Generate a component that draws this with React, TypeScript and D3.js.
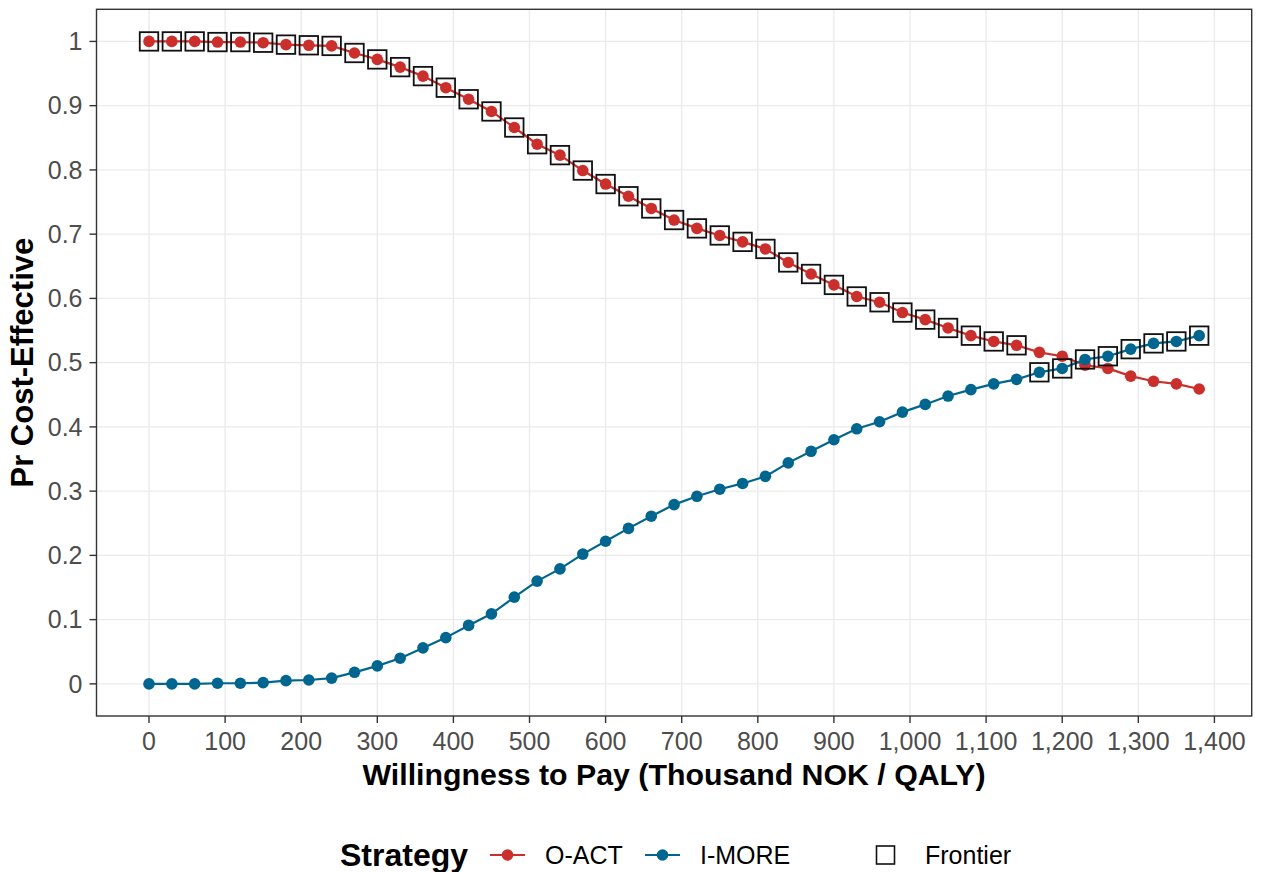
import React from "react";
import * as d3 from "d3";

const wtp = [0, 30, 60, 90, 120, 150, 180, 210, 240, 270, 300, 330, 360, 390, 420, 450, 480, 510, 540, 570, 600, 630, 660, 690, 720, 750, 780, 810, 840, 870, 900, 930, 960, 990, 1020, 1050, 1080, 1110, 1140, 1170, 1200, 1230, 1260, 1290, 1320, 1350, 1380];

const oact = [1.0, 1.0, 1.0, 0.999, 0.999, 0.998, 0.995, 0.994, 0.993, 0.982, 0.972, 0.96, 0.946, 0.928, 0.91, 0.891, 0.866, 0.84, 0.823, 0.799, 0.778, 0.759, 0.74, 0.722, 0.709, 0.698, 0.688, 0.677, 0.656, 0.638, 0.621, 0.603, 0.594, 0.578, 0.567, 0.554, 0.542, 0.533, 0.527, 0.516, 0.51, 0.496, 0.491, 0.479, 0.471, 0.467, 0.459];

const imore = [0, 0, 0, 0.001, 0.001, 0.002, 0.005, 0.006, 0.009, 0.018, 0.028, 0.04, 0.056, 0.072, 0.091, 0.109, 0.135, 0.16, 0.179, 0.202, 0.222, 0.242, 0.261, 0.279, 0.292, 0.303, 0.312, 0.323, 0.344, 0.362, 0.38, 0.397, 0.408, 0.423, 0.435, 0.448, 0.458, 0.467, 0.474, 0.485, 0.491, 0.505, 0.51, 0.521, 0.53, 0.533, 0.542];

const frontier = [
  "O-ACT", "O-ACT", "O-ACT", "O-ACT", "O-ACT", "O-ACT", "O-ACT", "O-ACT", "O-ACT", "O-ACT",
  "O-ACT", "O-ACT", "O-ACT", "O-ACT", "O-ACT", "O-ACT", "O-ACT", "O-ACT", "O-ACT", "O-ACT",
  "O-ACT", "O-ACT", "O-ACT", "O-ACT", "O-ACT", "O-ACT", "O-ACT", "O-ACT", "O-ACT", "O-ACT",
  "O-ACT", "O-ACT", "O-ACT", "O-ACT", "O-ACT", "O-ACT", "O-ACT", "O-ACT", "O-ACT",
  "I-MORE", "I-MORE", "I-MORE", "I-MORE", "I-MORE", "I-MORE", "I-MORE", "I-MORE",
];

const strategies = ["O-ACT", "I-MORE"];
const colors = ["#CB2F2C", "#00668F"];
const xTicks = [0, 100, 200, 300, 400, 500, 600, 700, 800, 900, 1000, 1100, 1200, 1300, 1400];
const yTicks = [0, 0.1, 0.2, 0.3, 0.4, 0.5, 0.6, 0.7, 0.8, 0.9, 1];

const W = 1261;
const H = 872;
const panel = { left: 96.5, right: 1251.7, top: 9.3, bottom: 716 };
const FONT = "'Liberation Sans', Arial, Helvetica, sans-serif";

export default function App() {
  const x = d3.scaleLinear().domain([-69, 1449]).range([panel.left, panel.right]);
  const y = d3.scaleLinear().domain([-0.05, 1.05]).range([panel.bottom, panel.top]);
  const series = [oact, imore];
  const line = d3
    .line<[number, number]>()
    .x((d) => x(d[0]))
    .y((d) => y(d[1]));
  const fmtX = d3.format(",");
  const fmtY = (v: number) => d3.format("")(+v.toFixed(1));

  const sq = 18.5;

  return (
    <svg
      width={W}
      height={H}
      style={{ position: "absolute", left: 0, top: 0, background: "#fff" }}
      fontFamily={FONT}
    >
      <rect x={0} y={0} width={W} height={H} fill="#fff" />
      {xTicks.map((t) => (
        <line key={"gx" + t} x1={x(t)} x2={x(t)} y1={panel.top} y2={panel.bottom} stroke="#EBEBEB" strokeWidth={1.4} />
      ))}
      {yTicks.map((t) => (
        <line key={"gy" + t} x1={panel.left} x2={panel.right} y1={y(t)} y2={y(t)} stroke="#EBEBEB" strokeWidth={1.4} />
      ))}
      {series.map((s, i) => (
        <path
          key={"l" + i}
          d={line(wtp.map((w, j) => [w, s[j]] as [number, number])) || ""}
          fill="none"
          stroke={colors[i]}
          strokeWidth={2.2}
        />
      ))}
      {series.map((s, i) => (
        <g key={"p" + i} fill={colors[i]}>
          {wtp.map((w, j) => (
            <circle key={j} cx={x(w)} cy={y(s[j])} r={5.8} />
          ))}
        </g>
      ))}
      <g fill="none" stroke="#111" strokeWidth={1.8}>
        {wtp.map((w, j) => {
          const idx = strategies.indexOf(frontier[j]);
          const v = series[idx][j];
          return <rect key={j} x={x(w) - sq / 2} y={y(v) - sq / 2} width={sq} height={sq} />;
        })}
      </g>
      <rect
        x={panel.left}
        y={panel.top}
        width={panel.right - panel.left}
        height={panel.bottom - panel.top}
        fill="none"
        stroke="#333333"
        strokeWidth={1.4}
      />
      {xTicks.map((t) => (
        <g key={"xt" + t}>
          <line x1={x(t)} x2={x(t)} y1={panel.bottom} y2={panel.bottom + 7} stroke="#333333" strokeWidth={1.4} />
          <text x={x(t)} y={panel.bottom + 34} textAnchor="middle" fontSize={25} fill="#4D4D4D">
            {fmtX(t)}
          </text>
        </g>
      ))}
      {yTicks.map((t) => (
        <g key={"yt" + t}>
          <line x1={panel.left - 7} x2={panel.left} y1={y(t)} y2={y(t)} stroke="#333333" strokeWidth={1.4} />
          <text x={panel.left - 14} y={y(t)} dy="0.35em" textAnchor="end" fontSize={25} fill="#4D4D4D">
            {fmtY(t)}
          </text>
        </g>
      ))}
      <text
        x={(panel.left + panel.right) / 2}
        y={785}
        textAnchor="middle"
        fontSize={30.3}
        fontWeight="bold"
        fill="#000"
      >
        Willingness to Pay (Thousand NOK / QALY)
      </text>
      <text
        transform={`translate(33,${(panel.top + panel.bottom) / 2}) rotate(-90)`}
        textAnchor="middle"
        fontSize={31}
        fontWeight="bold"
        fill="#000"
      >
        Pr Cost-Effective
      </text>
      <g>
        <text x={340} y={866} fontSize={32} fontWeight="bold" fill="#000">
          Strategy
        </text>
        {strategies.map((s, i) => {
          const kx = [490, 645][i];
          return (
            <g key={"lg" + s}>
              <line x1={kx} x2={kx + 35} y1={855} y2={855} stroke={colors[i]} strokeWidth={2.2} />
              <circle cx={kx + 17.5} cy={855} r={5.8} fill={colors[i]} />
              <text x={kx + 55} y={864} fontSize={25} fill="#000">
                {s}
              </text>
            </g>
          );
        })}
        <rect x={885.5 - 9} y={855 - 9} width={18} height={18} fill="none" stroke="#111" strokeWidth={1.6} />
        <text x={925} y={864} fontSize={25} fill="#000">
          Frontier
        </text>
      </g>
    </svg>
  );
}
